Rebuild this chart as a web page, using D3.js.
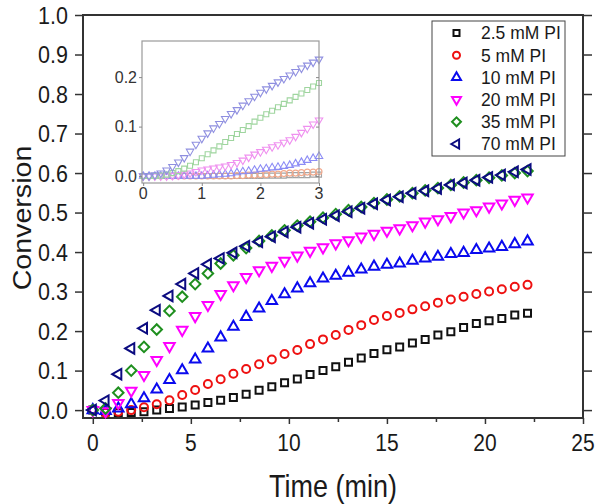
<!DOCTYPE html>
<html>
<head>
<meta charset="utf-8">
<script src="https://cdn.jsdelivr.net/npm/d3@7"></script>
<style>
  html, body { margin: 0; padding: 0; background: #fff; }
  svg { display: block; font-family: "Liberation Sans", Arial, sans-serif; }
</style>
</head>
<body>
<svg id="chart" width="601" height="504"></svg>
<script>
// ---------------- data ----------------
const times = [0, 0.65, 1.3, 1.96, 2.61, 3.26, 3.91, 4.56, 5.22, 5.87, 6.52, 7.17, 7.82, 8.48, 9.13, 9.78,
  10.43, 11.08, 11.74, 12.39, 13.04, 13.69, 14.34, 15.0, 15.65, 16.3, 16.95, 17.6, 18.26, 18.91, 19.56,
  20.21, 20.86, 21.52, 22.17];

const conv2_5 = [0, -0.005, -0.006, -0.006, -0.004, 0, 0.004, 0.008, 0.013, 0.019, 0.025, 0.032, 0.040, 0.050,
  0.059, 0.069, 0.079, 0.090, 0.100, 0.110, 0.121, 0.132, 0.143, 0.153, 0.160, 0.170, 0.179, 0.190, 0.198,
  0.209, 0.219, 0.226, 0.232, 0.241, 0.245];
const conv5 = [0, -0.007, -0.004, 0, 0.007, 0.015, 0.025, 0.038, 0.051, 0.066, 0.078, 0.092, 0.104, 0.116,
  0.128, 0.142, 0.152, 0.167, 0.179, 0.190, 0.203, 0.215, 0.228, 0.238, 0.246, 0.255, 0.263, 0.272, 0.280,
  0.287, 0.294, 0.300, 0.306, 0.312, 0.317];
const conv10 = [0, -0.002, 0.004, 0.015, 0.030, 0.052, 0.076, 0.101, 0.128, 0.156, 0.184, 0.211, 0.236, 0.257,
  0.276, 0.293, 0.308, 0.321, 0.333, 0.340, 0.348, 0.356, 0.363, 0.368, 0.371, 0.378, 0.384, 0.388, 0.395,
  0.398, 0.405, 0.409, 0.413, 0.420, 0.427];
const conv20 = [0, -0.003, 0.018, 0.049, 0.089, 0.127, 0.162, 0.203, 0.238, 0.266, 0.294, 0.316, 0.337, 0.354,
  0.365, 0.378, 0.391, 0.403, 0.412, 0.422, 0.430, 0.439, 0.446, 0.454, 0.460, 0.468, 0.477, 0.483, 0.491,
  0.500, 0.506, 0.515, 0.523, 0.532, 0.538];
const conv35 = [0, 0.004, 0.044, 0.100, 0.160, 0.204, 0.251, 0.287, 0.319, 0.346, 0.371, 0.392, 0.410, 0.428,
  0.442, 0.455, 0.467, 0.477, 0.487, 0.496, 0.506, 0.514, 0.524, 0.533, 0.541, 0.549, 0.556, 0.562, 0.570,
  0.576, 0.582, 0.588, 0.594, 0.600, 0.605];
const conv70 = [0, 0.024, 0.091, 0.156, 0.207, 0.253, 0.289, 0.319, 0.346, 0.369, 0.384, 0.398, 0.415, 0.426,
  0.439, 0.451, 0.463, 0.473, 0.483, 0.492, 0.502, 0.511, 0.522, 0.532, 0.540, 0.549, 0.555, 0.561, 0.570,
  0.575, 0.582, 0.589, 0.595, 0.603, 0.609];

const seriesNames = ["2.5 mM PI", "5 mM PI", "10 mM PI", "20 mM PI", "35 mM PI", "70 mM PI"];

// inset (first 3 min, finer sampling)
const insetTimes = [0, 0.1, 0.2, 0.3, 0.4, 0.5, 0.6, 0.7, 0.8, 0.9, 1.0, 1.1, 1.2, 1.3, 1.4, 1.5, 1.6, 1.7,
  1.8, 1.9, 2.0, 2.1, 2.2, 2.3, 2.4, 2.5, 2.6, 2.7, 2.8, 2.9, 3.0];
const inset2_5 = [0, 0, 0, 0, 0, 0, 0, 0, 0, 0, 0, 0, 0, 0, 0, 0, 0, 0, 0, 0, 0,
  0.001, 0.001, 0.001, 0.001, 0.002, 0.002, 0.002, 0.002, 0.003, 0.003];
const inset5 = [0, 0, 0, 0, 0, 0, 0, 0, 0, 0, 0, 0, 0, 0, 0, 0,
  0.001, 0.001, 0.002, 0.002, 0.003, 0.003, 0.004, 0.004, 0.005, 0.006, 0.006, 0.007, 0.008, 0.008, 0.009];
const inset10 = [0, 0, 0, 0, 0, 0, 0, 0, 0, 0, 0, 0.001, 0.002, 0.003, 0.004, 0.005, 0.007, 0.009, 0.010,
  0.012, 0.014, 0.015, 0.017, 0.018, 0.020, 0.022, 0.025, 0.028, 0.032, 0.036, 0.040];
const inset20 = [0, 0, 0, 0, 0, 0.001, 0.002, 0.004, 0.006, 0.009, 0.012, 0.014, 0.016, 0.018, 0.020, 0.023,
  0.027, 0.032, 0.038, 0.044, 0.049, 0.054, 0.059, 0.063, 0.068, 0.073, 0.080, 0.088, 0.096, 0.105, 0.113];
const inset35 = [0, 0, 0, 0.001, 0.003, 0.006, 0.010, 0.015, 0.021, 0.028, 0.036, 0.044, 0.052, 0.060, 0.069,
  0.077, 0.085, 0.093, 0.101, 0.110, 0.118, 0.125, 0.132, 0.139, 0.146, 0.153, 0.160, 0.167, 0.174, 0.181, 0.188];
const inset70 = [0, 0, 0.002, 0.006, 0.012, 0.019, 0.028, 0.037, 0.050, 0.064, 0.076, 0.087, 0.097, 0.106,
  0.116, 0.126, 0.134, 0.143, 0.152, 0.161, 0.169, 0.176, 0.183, 0.190, 0.197, 0.204, 0.211, 0.218, 0.224,
  0.230, 0.236];

const xTicks = [0, 5, 10, 15, 20, 25];
const xMinorTicks = [2.5, 7.5, 12.5, 17.5, 22.5];
const yTicks = [0.0, 0.1, 0.2, 0.3, 0.4, 0.5, 0.6, 0.7, 0.8, 0.9, 1.0];
const insetXTicks = [0, 1, 2, 3];
const insetYTicks = [0.0, 0.1, 0.2];

// ---------------- styles ----------------
const mainStyles = [
  { color: "#111111", shape: "square" },
  { color: "#ee1111", shape: "circle" },
  { color: "#0a0aee", shape: "up" },
  { color: "#ff00ff", shape: "down" },
  { color: "#1f8f1f", shape: "diamond" },
  { color: "#0b0b80", shape: "left" }
];
const insetStyles = [
  { color: "#a4a4a4", shape: "square" },
  { color: "#f2a98c", shape: "circle" },
  { color: "#8c8cf5", shape: "up" },
  { color: "#ef90ef", shape: "down" },
  { color: "#9fd59f", shape: "square" },
  { color: "#8f8fe0", shape: "down" }
];

function symbolPath(shape, s) {
  // s ~ nominal width
  if (shape === "square") return { d: d3.symbol(d3.symbolSquare, s * s)(), rot: 0 };
  if (shape === "circle") return { d: d3.symbol(d3.symbolCircle, Math.PI * (s / 2) * (s / 2))(), rot: 0 };
  if (shape === "diamond") return { d: d3.symbol(d3.symbolSquare, s * s * 0.55)(), rot: 45 };
  const triArea = s * s * Math.sqrt(3) / 4;
  const tri = d3.symbol(d3.symbolTriangle, triArea)();
  if (shape === "up") return { d: tri, rot: 0 };
  if (shape === "down") return { d: tri, rot: 180 };
  if (shape === "left") return { d: tri, rot: -90 };
  return { d: tri, rot: 0 };
}

const svg = d3.select("#chart");
const FONT_COLOR = "#1a1a1a";
const AX = "#333333";

function sText(g, x, y, txt, size, anchor, sy, color) {
  return g.append("text")
    .attr("transform", `translate(${x},${y}) scale(1,${sy})`)
    .attr("text-anchor", anchor)
    .attr("dy", "0.35em")
    .attr("font-size", size)
    .attr("fill", color || FONT_COLOR)
    .text(txt);
}

// ---------------- main scales ----------------
const x = d3.scaleLinear().domain([-0.5, 25]).range([83, 583]);
const y = d3.scaleLinear().domain([-0.02, 1.0]).range([418, 15]);

// axes (ticks only, labels drawn separately)
svg.append("g").attr("transform", `translate(0,${y.range()[0]})`)
  .call(d3.axisBottom(x).tickValues(xTicks).tickSize(6).tickFormat("").tickSizeOuter(0))
  .call(g => g.select(".domain").remove())
  .call(g => g.selectAll("line").attr("stroke", AX).attr("stroke-width", 1.5));
svg.append("g").attr("transform", `translate(0,${y.range()[0]})`)
  .call(d3.axisBottom(x).tickValues(xMinorTicks).tickSize(4).tickFormat("").tickSizeOuter(0))
  .call(g => g.select(".domain").remove())
  .call(g => g.selectAll("line").attr("stroke", AX).attr("stroke-width", 1.5));
svg.append("g").attr("transform", `translate(${x.range()[0]},0)`)
  .call(d3.axisLeft(y).tickValues(yTicks).tickSize(8).tickFormat("").tickSizeOuter(0))
  .call(g => g.select(".domain").remove())
  .call(g => g.selectAll("line").attr("stroke", AX).attr("stroke-width", 1.5));
svg.append("g").attr("transform", `translate(${x.range()[1]},0)`)
  .call(d3.axisRight(y).tickValues(yTicks).tickSize(9).tickFormat("").tickSizeOuter(0))
  .call(g => g.select(".domain").remove())
  .call(g => g.selectAll("line").attr("stroke", AX).attr("stroke-width", 1.5));

// frame
svg.append("rect")
  .attr("x", x.range()[0]).attr("y", y.range()[1])
  .attr("width", x.range()[1] - x.range()[0]).attr("height", y.range()[0] - y.range()[1])
  .attr("fill", "none").attr("stroke", AX).attr("stroke-width", 2);

// tick labels
const labG = svg.append("g");
xTicks.forEach(v => sText(labG, x(v), 443, String(v), 21, "middle", 1.13));
yTicks.forEach(v => sText(labG, 68, y(v), d3.format(".1f")(v), 21.5, "end", 1.15));

// axis titles
sText(svg, 333, 486, "Time (min)", 27, "middle", 1.15);
svg.append("text")
  .attr("transform", `translate(31,218) rotate(-90) scale(1.1,1)`)
  .attr("text-anchor", "middle")
  .attr("font-size", 26)
  .attr("fill", FONT_COLOR)
  .text("Conversion");

// ---------------- main markers ----------------
const mainSeries = [conv2_5, conv5, conv10, conv20, conv35, conv70];
const sizes = { square: 7, circle: 8, up: 10.5, down: 10.5, diamond: 10, left: 10.5 };
mainSeries.forEach((vals, si) => {
  const st = mainStyles[si];
  const sp = symbolPath(st.shape, sizes[st.shape]);
  svg.append("g").selectAll("path")
    .data(times.map((t, i) => [t, vals[i]]))
    .join("path")
    .attr("d", sp.d)
    .attr("transform", d => `translate(${x(d[0])},${y(d[1])}) rotate(${sp.rot})`)
    .attr("fill", "none")
    .attr("stroke", st.color)
    .attr("stroke-width", 2);
});

// ---------------- legend ----------------
const leg = svg.append("g");
leg.append("rect").attr("x", 432).attr("y", 21).attr("width", 133).attr("height", 135)
  .attr("fill", "#fff").attr("stroke", "#444").attr("stroke-width", 1);
const legRowY = d3.scalePoint().domain(seriesNames).range([33, 144]);
seriesNames.forEach((name, i) => {
  const st = mainStyles[i];
  const lsz = { square: 6, circle: 7, up: 9, down: 9, diamond: 8.5, left: 9 }[st.shape];
  const sp = symbolPath(st.shape, lsz);
  leg.append("path").attr("d", sp.d)
    .attr("transform", `translate(456.5,${legRowY(name)}) rotate(${sp.rot})`)
    .attr("fill", "none").attr("stroke", st.color).attr("stroke-width", 2);
  leg.append("text").attr("x", 481).attr("y", legRowY(name)).attr("dy", "0.36em")
    .attr("font-size", 17.5).attr("fill", FONT_COLOR).text(name);
});

// ---------------- inset ----------------
const xi = d3.scaleLinear().domain([-0.02, 3]).range([142, 319]);
const yi = d3.scaleLinear().domain([-0.014, 0.273]).range([183, 41]);
const ins = svg.append("g");
ins.append("rect").attr("x", 142).attr("y", 41).attr("width", 177).attr("height", 142)
  .attr("fill", "#fff").attr("stroke", "none");

const insetSeries = [inset2_5, inset5, inset10, inset20, inset35, inset70];
const insetSizes = { square: 5, circle: 6, up: 7.5, down: 7.5 };
insetSeries.forEach((vals, si) => {
  const st = insetStyles[si];
  const sp = symbolPath(st.shape, insetSizes[st.shape]);
  ins.append("g").selectAll("path")
    .data(insetTimes.map((t, i) => [t, vals[i]]))
    .join("path")
    .attr("d", sp.d)
    .attr("transform", d => `translate(${xi(d[0])},${yi(d[1])}) rotate(${sp.rot})`)
    .attr("fill", "none")
    .attr("stroke", st.color)
    .attr("stroke-width", 1.1);
});

ins.append("rect").attr("x", 142).attr("y", 41).attr("width", 177).attr("height", 142)
  .attr("fill", "none").attr("stroke", "#9a9a9a").attr("stroke-width", 1.2);
ins.append("g").attr("transform", "translate(0,183)")
  .call(d3.axisBottom(xi).tickValues(insetXTicks).tickSize(3).tickFormat("").tickSizeOuter(0))
  .call(g => g.select(".domain").remove())
  .call(g => g.selectAll("line").attr("stroke", "#888"));
ins.append("g").attr("transform", "translate(142,0)")
  .call(d3.axisLeft(yi).tickValues(insetYTicks).tickSize(3).tickFormat("").tickSizeOuter(0))
  .call(g => g.select(".domain").remove())
  .call(g => g.selectAll("line").attr("stroke", "#888"));
ins.append("g").attr("transform", "translate(319,0)")
  .call(d3.axisLeft(yi).tickValues(insetYTicks).tickSize(3).tickFormat("").tickSizeOuter(0))
  .call(g => g.select(".domain").remove())
  .call(g => g.selectAll("line").attr("stroke", "#888"));
insetXTicks.forEach(v => sText(ins, xi(v), 193, String(v), 16, "middle", 1.05, "#333"));
insetYTicks.forEach(v => sText(ins, 137, yi(v), d3.format(".1f")(v), 16, "end", 1.05, "#333"));
</script>
</body>
</html>
